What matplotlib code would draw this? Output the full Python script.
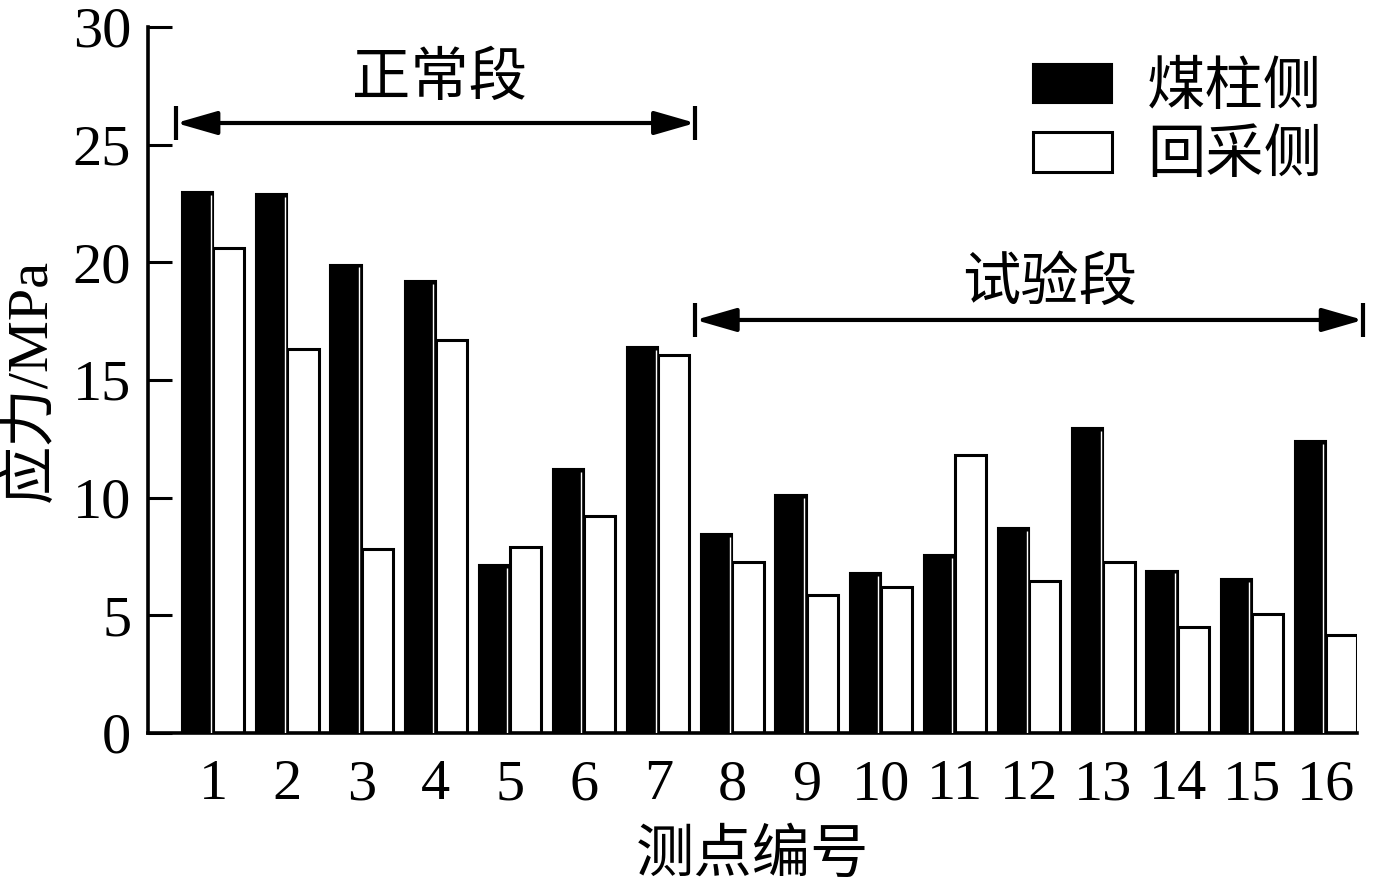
import matplotlib
matplotlib.use("Agg")
import matplotlib.pyplot as plt
import numpy as np

plt.rcParams['font.family'] = ['Liberation Serif', 'Noto Sans CJK SC']
plt.rcParams['axes.unicode_minus'] = False

points = [str(i) for i in range(1, 17)]
coal_pillar = [23.0, 22.9, 19.9, 19.2, 7.15, 11.2, 16.4, 8.45, 10.1, 6.8, 7.55, 8.7, 12.95, 6.9, 6.55, 12.4]
mining_side = [20.6, 16.3, 7.8, 16.7, 7.9, 9.2, 16.05, 7.25, 5.85, 6.2, 11.8, 6.45, 7.25, 4.5, 5.05, 4.15]
yticks = [0, 5, 10, 15, 20, 25, 30]
label_coal = '煤柱侧'
label_mining = '回采侧'
seg_normal = '正常段'
seg_test = '试验段'
normal_range = (0.5, 7.5)
test_range = (7.5, 16.5)

fs = 42
fig = plt.figure(figsize=(13.82, 8.85), dpi=100)
ax = fig.add_axes([0.107, 0.1718, 0.875, 0.7977])

x = np.arange(1, 17)
w = 0.42
ax.bar(x - w / 2, coal_pillar, w, color='black', edgecolor='black', linewidth=1.5, label=label_coal, zorder=2)
ax.bar(x + w / 2, mining_side, w, color='white', edgecolor='black', linewidth=2.2, label=label_mining, zorder=2)
ax.vlines(x - 0.035, 0, np.array(coal_pillar) - 0.12, color='white', lw=1.0, zorder=3)

ax.set_xlim(0.12, 16.42)
ax.set_ylim(0, 30)
ax.set_yticks(yticks)
ax.set_xticks(x)
ax.set_xticklabels(points)
ax.tick_params(axis='y', direction='in', length=17, width=2.2, labelsize=fs, pad=12)
ax.tick_params(axis='x', length=0, labelsize=fs, pad=19)
for s in ['top', 'right']:
    ax.spines[s].set_visible(False)
for s in ['left', 'bottom']:
    ax.spines[s].set_linewidth(2.6)

ax.set_ylabel('应力/MPa', fontsize=fs, labelpad=11)
ax.set_xlabel('测点编号', fontsize=fs, labelpad=13)

def seg_arrow(rng, y, text, ty, tx):
    ax.annotate('', xy=(rng[0], y), xytext=(rng[1], y),
                arrowprops=dict(arrowstyle='<|-|>,head_length=1.25,head_width=0.36',
                                mutation_scale=20, lw=3, color='black',
                                shrinkA=0, shrinkB=0))
    ax.plot([rng[0], rng[1]], [y, y], ls='none', marker='|', markersize=24,
            markeredgewidth=3, color='black', clip_on=False)
    ax.text(tx, ty, text, fontsize=fs, ha='center', va='center')

seg_arrow(normal_range, 25.92, seg_normal, 27.75, 4.05)
seg_arrow(test_range, 17.55, seg_test, 19.04, 12.27)

leg = ax.legend(loc='upper right', bbox_to_anchor=(1.0, 1.0), fontsize=fs, frameon=False,
                handlelength=1.35, handleheight=0.66, handletextpad=0.6, labelspacing=0.25,
                borderaxespad=0.2)

fig.savefig('out.png', dpi=100)
